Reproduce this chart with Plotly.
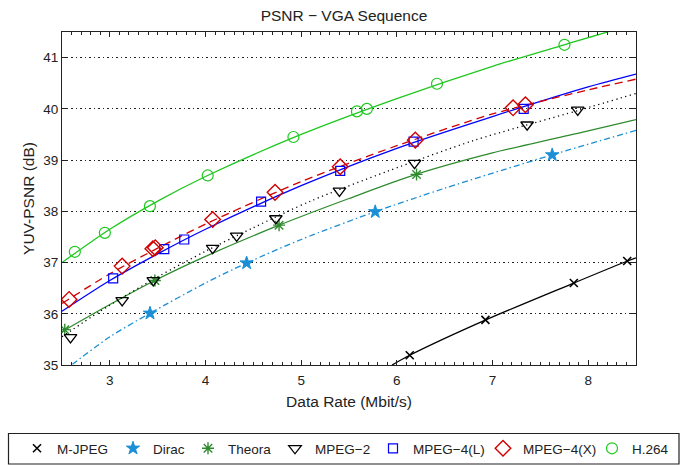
import plotly.graph_objects as go

# ---------------- data ----------------
series_names = ["M-JPEG", "Dirac", "Theora", "MPEG\u22122", "MPEG\u22124(L)", "MPEG\u22124(X)", "H.264"]

# measured points (markers)
mjpeg_rate = [6.135, 6.926, 7.85, 8.408]
mjpeg_psnr = [35.19, 35.88, 36.60, 37.03]

dirac_rate = [3.42, 4.43, 5.774, 7.624]
dirac_psnr = [36.01, 36.99, 37.99, 39.10]

theora_rate = [2.529, 3.471, 4.769, 6.206]
theora_psnr = [35.69, 36.65, 37.73, 38.72]

mpeg2_rate = [2.589, 3.129, 3.454, 4.075, 4.326, 4.735, 5.40, 6.185, 7.362, 7.891]
mpeg2_psnr = [35.54, 36.26, 36.65, 37.28, 37.52, 37.86, 38.40, 38.94, 39.69, 39.98]

mpeg4l_rate = [3.035, 3.569, 3.778, 4.581, 5.408, 6.175, 7.326]
mpeg4l_psnr = [36.69, 37.26, 37.45, 38.19, 38.79, 39.36, 40.00]

mpeg4x_rate = [2.574, 3.129, 3.45, 3.475, 4.075, 4.727, 5.408, 6.193, 7.215, 7.344]
mpeg4x_psnr = [36.28, 36.93, 37.27, 37.29, 37.84, 38.37, 38.87, 39.39, 40.02, 40.08]

h264_rate = [2.634, 2.948, 3.419, 4.023, 4.919, 5.583, 5.687, 6.42, 7.752]
h264_psnr = [37.21, 37.58, 38.10, 38.70, 39.45, 39.95, 40.00, 40.49, 41.25]

# fitted curves
mjpeg_fit_rate = [5.95, 6.135, 6.93, 7.85, 8.41, 8.5]
mjpeg_fit_psnr = [35.0, 35.19, 35.88, 36.60, 37.03, 37.09]

dirac_fit_rate = [2.5, 2.6, 3.0, 3.42, 4.0, 4.43, 5.0, 5.77, 6.5, 7.62, 8.5]
dirac_fit_psnr = [34.85, 35.0, 35.55, 36.01, 36.60, 36.99, 37.45, 37.99, 38.45, 39.10, 39.58]

theora_fit_rate = [2.5, 3.0, 3.47, 4.0, 4.77, 5.5, 6.2, 7.0, 8.0, 8.5]
theora_fit_psnr = [35.65, 36.18, 36.65, 37.12, 37.73, 38.25, 38.72, 39.14, 39.57, 39.79]

mpeg2_fit_rate = [2.5, 2.9, 3.5, 4.0, 4.5, 5.1, 5.9, 6.8, 7.9, 8.5]
mpeg2_fit_psnr = [35.55, 36.05, 36.72, 37.22, 37.68, 38.20, 38.78, 39.38, 39.97, 40.30]

mpeg4l_fit_rate = [2.5, 3.0, 3.5, 4.0, 5.0, 6.0, 7.0, 8.0, 8.5]
mpeg4l_fit_psnr = [36.05, 36.65, 37.17, 37.65, 38.50, 39.23, 39.85, 40.43, 40.68]

mpeg4x_fit_rate = [2.5, 3.0, 3.5, 4.0, 5.0, 6.0, 7.0, 8.0, 8.5]
mpeg4x_fit_psnr = [36.20, 36.78, 37.28, 37.75, 38.58, 39.28, 39.90, 40.37, 40.58]

h264_fit_rate = [2.5, 3.0, 3.5, 4.0, 5.0, 6.0, 7.0, 7.75, 8.2, 8.5]
h264_fit_psnr = [37.0, 37.65, 38.20, 38.68, 39.50, 40.20, 40.83, 41.25, 41.50, 41.65]

x_ticks = [3, 4, 5, 6, 7, 8]
y_ticks = [35, 36, 37, 38, 39, 40, 41]

# ---------------- styles ----------------
FONT = "Liberation Sans, Arial, sans-serif"
styles = [
    dict(color="#000000", dash="solid", symbol="x-thin-open", size=8, mlw=1.6),
    dict(color="#1b8fd6", dash="6px,3px,1.5px,3px", symbol="star", size=10, mlw=1),
    dict(color="#2e8b2e", dash="solid", symbol="asterisk-open", size=10, mlw=1.4),
    dict(color="#000000", dash="1.2px,3.5px", symbol="triangle-down-open", size=11, mlw=1.3),
    dict(color="#0000ff", dash="solid", symbol="square-open", size=9, mlw=1.2),
    dict(color="#d00000", dash="8px,5px", symbol="diamond-open", size=12, mlw=1.4),
    dict(color="#1ec81e", dash="solid", symbol="circle-open", size=11, mlw=1.2),
]
# x pixel where each legend entry's text starts in the reference
legend_text_px = [57, 153, 228, 315, 413, 523, 632]

markers = [
    (mjpeg_rate, mjpeg_psnr), (dirac_rate, dirac_psnr), (theora_rate, theora_psnr),
    (mpeg2_rate, mpeg2_psnr), (mpeg4l_rate, mpeg4l_psnr), (mpeg4x_rate, mpeg4x_psnr),
    (h264_rate, h264_psnr),
]
fits = [
    (mjpeg_fit_rate, mjpeg_fit_psnr), (dirac_fit_rate, dirac_fit_psnr), (theora_fit_rate, theora_fit_psnr),
    (mpeg2_fit_rate, mpeg2_fit_psnr), (mpeg4l_fit_rate, mpeg4l_fit_psnr), (mpeg4x_fit_rate, mpeg4x_fit_psnr),
    (h264_fit_rate, h264_fit_psnr),
]

W, H = 688, 465
ml, mr, mt, mb = 62, 52, 32, 100
pw, ph = W - ml - mr, H - mt - mb

def px_x(p):
    return (p - ml) / pw

def px_y(p):
    return (H - mb - p) / ph

fig = go.Figure()

for name, st, (fx, fy) in zip(series_names, styles, fits):
    fig.add_trace(go.Scatter(
        x=fx, y=fy, mode="lines", showlegend=False, hoverinfo="skip",
        line=dict(color=st["color"], width=1.3, dash=st["dash"], shape="spline", smoothing=0.8),
    ))

legend_layouts = {}
for i, (name, st, (mx, my)) in enumerate(zip(series_names, styles, markers)):
    lg = "legend" if i == 0 else f"legend{i + 1}"
    fig.add_trace(go.Scatter(
        x=mx, y=my, mode="markers", name=name, cliponaxis=True, legend=lg,
        marker=dict(symbol=st["symbol"], size=st["size"], color=st["color"],
                    line=dict(color=st["color"], width=st["mlw"])),
    ))
    legend_layouts[lg] = dict(
        orientation="h", x=px_x(legend_text_px[i] - 40), xanchor="left",
        y=px_y(448.5), yanchor="middle",
        bgcolor="rgba(0,0,0,0)", borderwidth=0,
        font=dict(family=FONT, size=13.5, color="#222"), itemwidth=30,
    )

fig.update_layout(
    width=W, height=H,
    margin=dict(l=ml, r=mr, t=mt, b=mb, autoexpand=False),
    paper_bgcolor="white", plot_bgcolor="white",
    font=dict(family=FONT, size=13, color="#222222"),
    title=dict(text="PSNR \u2212 VGA Sequence", x=px_x(349), xanchor="center",
               y=1 - 16 / H, yanchor="middle", font=dict(size=15.5, color="#222222")),
    xaxis=dict(
        range=[2.5, 8.5], tickvals=x_ticks, ticktext=[str(v) for v in x_ticks],
        ticks="inside", ticklen=5, tickwidth=1, tickcolor="#222",
        showline=True, linecolor="#222", linewidth=1.2, mirror="ticks",
        showgrid=False, zeroline=False, automargin=False,
        minor=dict(dtick=0.1, tick0=0, ticks="inside", ticklen=3, tickcolor="#222", showgrid=False),
        title=dict(text="Data Rate (Mbit/s)", font=dict(size=15.5), standoff=8),
        tickfont=dict(size=13.5), ticklabelstandoff=3,
    ),
    yaxis=dict(
        range=[35, 41.5], tickvals=y_ticks, ticktext=[str(v) for v in y_ticks],
        ticks="inside", ticklen=5, tickwidth=1, tickcolor="#222",
        showline=True, linecolor="#222", linewidth=1.2, mirror="ticks",
        showgrid=True, gridcolor="#222", gridwidth=1, griddash="1.5px,3px",
        zeroline=False, automargin=False,
        title=dict(text="YUV-PSNR (dB)", font=dict(size=15.5), standoff=4),
        tickfont=dict(size=13.5),
    ),
    shapes=[dict(type="rect", xref="paper", yref="paper",
                 x0=px_x(8.5), x1=px_x(679), y0=px_y(464), y1=px_y(433.5),
                 line=dict(color="#222", width=1.2), fillcolor="rgba(0,0,0,0)")],
    showlegend=True,
    **legend_layouts,
)

fig.write_html("out.html", config={"displayModeBar": False},
               post_script="document.body.style.margin='0';document.body.style.overflow='hidden';")
